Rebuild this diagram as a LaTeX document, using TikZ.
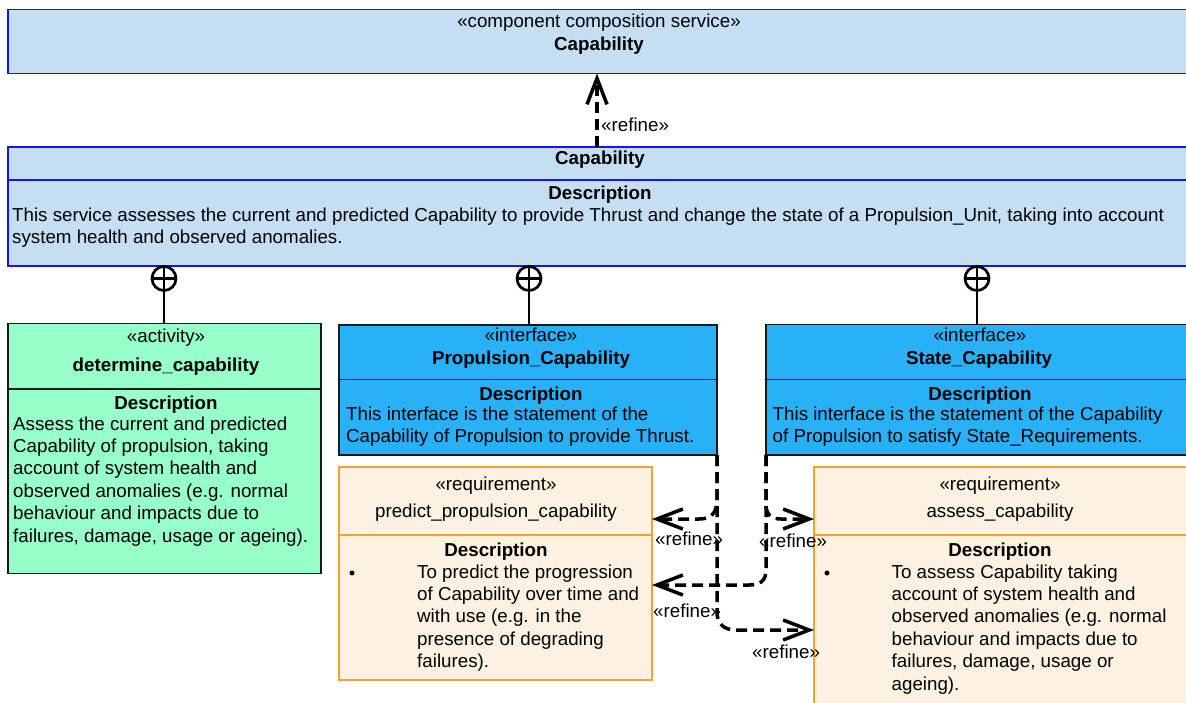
\documentclass[tikz,border=0pt]{standalone}
\usepackage{fontspec}
\setmainfont{Liberation Sans}
\usetikzlibrary{arrows.meta}

\definecolor{svcfill}{RGB}{198,222,242}
\definecolor{svcline}{RGB}{20,20,240}
\definecolor{ifill}{RGB}{41,177,248}
\definecolor{actfill}{RGB}{150,255,202}
\definecolor{reqfill}{RGB}{253,242,226}
\definecolor{reqline}{RGB}{247,160,50}
\definecolor{edge}{RGB}{25,25,25}

% stacked text lines; the baseline is that of the first line
\newcommand{\lineset}[1]{\vtop{\baselineskip=22.4pt\lineskiplimit=-30pt\lineskip=0pt\halign{##\hfil\cr#1\crcr}}}

\tikzset{
  x=1pt, y=-1pt,
  txt/.style={inner sep=0pt, anchor=base west, font=\fontsize{18.75}{22.4}\selectfont},
  ctxt/.style={inner sep=0pt, anchor=base, font=\fontsize{18.75}{22.4}\selectfont},
  btxt/.style={ctxt, font=\fontsize{18.75}{22.4}\selectfont\bfseries},
  boxbase/.style={anchor=north west, inner sep=0pt, outer sep=0pt, line width=1.5pt},
  svc/.style={boxbase, draw=svcline, fill=svcfill},
  iface/.style={boxbase, draw=edge, fill=ifill},
  activity/.style={boxbase, draw=edge, fill=actfill},
  reqbox/.style={boxbase, draw=reqline, fill=reqfill},
  refine/.style={draw=black, line width=3.5pt, dash pattern=on 11pt off 6pt,
    -{Straight Barb[length=26pt,width=20pt,line width=3.5pt]}},
  composite/.style={circle, draw=black, line width=2.7pt, minimum size=24pt, inner sep=0pt},
  compline/.style={draw=black, line width=2.7pt},
  bulletdot/.style={circle, fill=black, minimum size=5pt, inner sep=0pt}
}

\begin{document}
\begin{tikzpicture}
\useasboundingbox (0,0) rectangle (1186,702);
\clip (0,0) rectangle (1186,702);

% ---- boxes ----
\node[svc, minimum width=1180pt, minimum height=64pt] (ccs) at (8,9.5) {};
\node[svc, minimum width=1180pt, minimum height=119pt] (capab) at (8,147) {};
\draw[svcline, line width=1.5pt] (capab.west |- 0,180) -- (capab.east |- 0,180);

\node[activity, minimum width=313pt, minimum height=250pt] (act) at (8,323.5) {};
\draw[edge, line width=1.5pt] (act.west |- 0,389) -- (act.east |- 0,389);

\node[iface, minimum width=378pt, minimum height=130pt] (pc) at (339,325) {};
\draw[edge, line width=1.5pt] (pc.west |- 0,379.5) -- (pc.east |- 0,379.5);

\node[iface, minimum width=428pt, minimum height=130.5pt] (sc) at (766,324.5) {};
\draw[edge, line width=1.5pt] (sc.west |- 0,379.5) -- (sc.east |- 0,379.5);

\node[reqbox, minimum width=313pt, minimum height=213pt] (pp) at (339,467) {};
\draw[reqline, line width=1.5pt] (pp.west |- 0,535) -- (pp.east |- 0,535);

\node[reqbox, minimum width=374pt, minimum height=240pt] (ac) at (814,467) {};
\draw[reqline, line width=1.5pt] (ac.west |- 0,535) -- (ac.east |- 0,535);

% ---- texts ----
\node[ctxt] (ccsst) at (599,27) {«component composition service»};
\node[btxt] (ccsname) at (599,50) {Capability};

\node[btxt] (capname) at (600,164) {Capability};
\node[btxt] (capdh) at (600,199) {Description};
\node[txt] (capdesc) at (12,221) {\lineset{This service assesses the current and predicted Capability to provide Thrust and change the state of a Propulsion\_Unit, taking into account\cr
system health and observed anomalies.}};

\node[ctxt] (actst) at (166,342.5) {«activity»};
\node[btxt] (actname) at (166,371) {determine\_capability};
\node[btxt] (actdh) at (166,409) {Description};
\node[txt] (actdesc) at (13,430) {\lineset{Assess the current and predicted\cr
Capability of propulsion, taking\cr
account of system health and\cr
observed anomalies (e.g. normal\cr
behaviour and impacts due to\cr
failures, damage, usage or ageing).}};

\node[ctxt] (pcst) at (531,341.5) {«interface»};
\node[btxt] (pcname) at (531,364) {Propulsion\_Capability};
\node[btxt] (pcdh) at (531,400) {Description};
\node[txt] (pcdesc) at (346,420) {\lineset{This interface is the statement of the\cr
Capability of Propulsion to provide Thrust.}};

\node[ctxt] (scst) at (980,341.5) {«interface»};
\node[btxt] (scname) at (979,364) {State\_Capability};
\node[btxt] (scdh) at (980,400) {Description};
\node[txt] (scdesc) at (772.5,420) {\lineset{This interface is the statement of the Capability\cr
of Propulsion to satisfy State\_Requirements.}};

\node[ctxt] (ppst) at (496,490) {«requirement»};
\node[ctxt] (ppname) at (496,517) {predict\_propulsion\_capability};
\node[btxt] (ppdh) at (496,556) {Description};
\node[bulletdot] (ppbul) at (352,573) {};
\node[txt] (ppdesc) at (417,578) {\lineset{To predict the progression\cr
of Capability over time and\cr
with use (e.g. in the\cr
presence of degrading\cr
failures).}};

\node[ctxt] (acst) at (1000,490) {«requirement»};
\node[ctxt] (acname) at (1000,517) {assess\_capability};
\node[btxt] (acdh) at (1000,556) {Description};
\node[bulletdot] (acbul) at (827,573) {};
\node[txt] (acdesc) at (891.5,578) {\lineset{To assess Capability taking\cr
account of system health and\cr
observed anomalies (e.g. normal\cr
behaviour and impacts due to\cr
failures, damage, usage or\cr
ageing).}};

% ---- composition (nesting) connectors ----
\foreach \n/\x/\t in {c1/164/act, c2/529/pc, c3/977/sc} {
  \node[composite] (\n) at (\x,278.5) {};
  \draw[compline] (\n.north) -- (\n.south);
  \draw[compline] (\n.west) -- (\n.east);
  \draw[compline] (\n.south) -- (\n.south |- \t.north);
}

% ---- refine dependencies ----
\draw[refine] ([xshift=-1pt]capab.north) -- ([xshift=-1pt]ccs.south);
\node[txt] (rf0) at (601,131) {«refine»};

\draw[refine] (pc.south east) -- (717,500) .. controls (717,513) and (711,519) .. (699,519) -- (pp.east |- 0,519);
\node[txt] (rf1) at (655,545) {«refine»};

\draw[refine] (sc.south west) -- (766,505) .. controls (766,514) and (771,519) .. (781,519) -- (ac.west |- 0,519);
\node[txt] (rf2) at (759,547) {«refine»};

\draw[refine] (sc.south west) -- (766,570) .. controls (766,581) and (760,585) .. (749,585) -- (pp.east |- 0,585);
\node[txt] (rf3) at (653,617) {«refine»};

\draw[refine] (pc.south east) -- (717,612) .. controls (717,624) and (724,630) .. (736,630) -- (ac.west |- 0,630);
\node[txt] (rf4) at (752,658) {«refine»};
\end{tikzpicture}
\end{document}
